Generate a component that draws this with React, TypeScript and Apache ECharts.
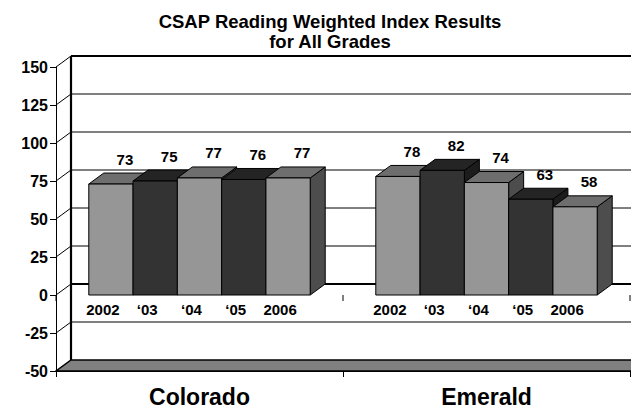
import React, { useEffect, useRef } from "react";
import * as echarts from "echarts";

const groups = ["Colorado", "Emerald"];
const years = ["2002", "\u201803", "\u201804", "\u201805", "2006"];
const coloradoValues = [73, 75, 77, 76, 77];
const emeraldValues = [78, 82, 74, 63, 58];
const yTicks = [-50, -25, 0, 25, 50, 75, 100, 125, 150];
const titleLines = ["CSAP Reading Weighted Index Results", "for All Grades"];

const FONT = '"Liberation Sans", Arial, Helvetica, sans-serif';
const DX = 15;
const DY = 11;
const BAR_RATIO = 0.1543;
const LIGHT = { front: "#969696", top: "#6e6e6e", side: "#4d4d4d" };
const DARK = { front: "#333333", top: "#242424", side: "#1c1c1c" };

function barGeom(api: any, c: number, v: number, idx: number) {
  const [cx, yt] = api.coord([c, v]);
  const y0 = api.coord([c, 0])[1];
  const band = api.size([1, 0])[0];
  const bw = band * BAR_RATIO;
  const x0 = cx - 2.5 * bw + idx * bw;
  return { x0, x1: x0 + bw, yt, y0, bw };
}

function makeBarRender(idx: number) {
  return (_params: any, api: any) => {
    const { x0, x1, yt, y0, bw } = barGeom(api, api.value(0), api.value(1), idx);
    const col = idx % 2 === 0 ? LIGHT : DARK;
    return {
      type: "group",
      children: [
        {
          type: "polygon",
          shape: { points: [[x1, y0], [x1 + DX, y0 - DY], [x1 + DX, yt - DY], [x1, yt]] },
          style: { fill: col.side, stroke: "#000", lineWidth: 1 },
        },
        {
          type: "polygon",
          shape: { points: [[x0, yt], [x0 + DX, yt - DY], [x1 + DX, yt - DY], [x1, yt]] },
          style: { fill: col.top, stroke: "#000", lineWidth: 1 },
        },
        {
          type: "rect",
          shape: { x: x0, y: yt, width: bw, height: y0 - yt },
          style: { fill: col.front, stroke: "#000", lineWidth: 1 },
        },
      ],
    };
  };
}

function labelRender(_params: any, api: any) {
  const idx = api.value(2);
  const v = api.value(1);
  const { x0, yt, y0, bw } = barGeom(api, api.value(0), v, idx);
  const cx = x0 + bw / 2;
  return {
    type: "group",
    children: [
      {
        type: "text",
        x: cx + 14,
        y: yt - DY - 14,
        style: {
          text: String(v),
          fill: "#000",
          fontSize: 15,
          fontWeight: "bold",
          fontFamily: FONT,
          align: "center",
          verticalAlign: "middle",
        },
      },
      {
        type: "text",
        x: cx - 8,
        y: y0 + 14,
        style: {
          text: years[idx],
          fill: "#000",
          fontSize: 15,
          fontWeight: "bold",
          fontFamily: FONT,
          align: "center",
          verticalAlign: "middle",
        },
      },
    ],
  };
}

function wallsRender(params: any, api: any) {
  const cs = params.coordSys;
  const left = cs.x;
  const right = cs.x + cs.width;
  const far = right + DX + 30;
  const band = api.size([1, 0])[0];
  const y = (v: number) => api.coord([0, v])[1];
  const yMin = y(yTicks[0]);
  const yMax = y(yTicks[yTicks.length - 1]);
  const children: any[] = [];
  children.push({
    type: "rect",
    shape: { x: left + DX, y: yMax - DY, width: far - left, height: yMin - yMax },
    style: { fill: "#fff" },
  });
  yTicks.slice(1).forEach((v) => {
    const lw = v === 0 ? 2.2 : v === yTicks[yTicks.length - 1] ? 1.8 : 1;
    children.push({
      type: "line",
      shape: { x1: left + DX, y1: y(v) - DY, x2: far, y2: y(v) - DY },
      style: { stroke: "#000", lineWidth: lw },
    });
    children.push({
      type: "line",
      shape: { x1: left, y1: y(v), x2: left + DX, y2: y(v) - DY },
      style: { stroke: "#000", lineWidth: 1 },
    });
  });
  children.push({
    type: "line",
    shape: { x1: left + DX, y1: yMax - DY, x2: left + DX, y2: yMin - DY },
    style: { stroke: "#000", lineWidth: 2.2 },
  });
  children.push({
    type: "polygon",
    shape: {
      points: [
        [left, yMin],
        [far, yMin],
        [far + DX, yMin - DY],
        [left + DX, yMin - DY],
      ],
    },
    style: { fill: "#808080", stroke: "#000", lineWidth: 1.5 },
  });
  for (let k = 0; k <= groups.length; k++) {
    const x = left + k * band;
    children.push({
      type: "line",
      shape: { x1: x, y1: y(0), x2: x, y2: y(0) + 6 },
      style: { stroke: "#000", lineWidth: 1 },
    });
  }
  return { type: "group", children };
}

export default function App() {
  const ref = useRef<HTMLDivElement>(null);
  useEffect(() => {
    if (!ref.current) return;
    const chart = echarts.init(ref.current, undefined, { renderer: "svg" });
    const valuesByGroup = [coloradoValues, emeraldValues];
    const barSeries = years.map((yr, i) => ({
      type: "custom",
      name: yr,
      renderItem: makeBarRender(i),
      encode: { x: 0, y: 1 },
      data: groups.map((_g, c) => [c, valuesByGroup[c][i]]),
      silent: true,
      z: 3,
    }));
    const labelData: number[][] = [];
    years.forEach((_yr, i) => groups.forEach((_g, c) => labelData.push([c, valuesByGroup[c][i], i])));
    chart.setOption({
      animation: false,
      title: {
        text: titleLines.join("\n"),
        left: 325,
        top: 7,
        textAlign: "center",
        textStyle: {
          fontSize: 18.5,
          fontWeight: "bold",
          fontFamily: FONT,
          lineHeight: 19.5,
          color: "#000",
        },
      },
      grid: { left: 56, right: 1, top: 67, bottom: 38, containLabel: false },
      xAxis: {
        type: "category",
        data: groups,
        position: "bottom",
        axisLine: { show: true, onZero: false, lineStyle: { color: "#000", width: 1 } },
        axisTick: { show: true, length: 6, lineStyle: { color: "#000" } },
        axisLabel: {
          margin: 14,
          fontSize: 23,
          fontWeight: "bold",
          fontFamily: FONT,
          color: "#000",
        },
        splitLine: { show: false },
      },
      yAxis: {
        type: "value",
        min: yTicks[0],
        max: yTicks[yTicks.length - 1],
        interval: 25,
        axisLine: { show: true, lineStyle: { color: "#000", width: 1 } },
        axisTick: { show: true, length: 6, lineStyle: { color: "#000" } },
        axisLabel: {
          margin: 8,
          fontSize: 16,
          fontWeight: "bold",
          fontFamily: FONT,
          color: "#000",
        },
        splitLine: { show: false },
      },
      series: [
        {
          type: "custom",
          name: "walls",
          renderItem: wallsRender,
          encode: { x: 0, y: 1 },
          data: [[0, 0]],
          silent: true,
          z: 1,
        },
        ...barSeries,
        {
          type: "custom",
          name: "labels",
          renderItem: labelRender,
          encode: { x: 0, y: 1 },
          data: labelData,
          silent: true,
          z: 5,
        },
      ],
    });
    return () => chart.dispose();
  }, []);
  return (
    <div
      ref={ref}
      style={{ position: "fixed", left: 0, top: 0, width: 631, height: 409, background: "#fff" }}
    />
  );
}
